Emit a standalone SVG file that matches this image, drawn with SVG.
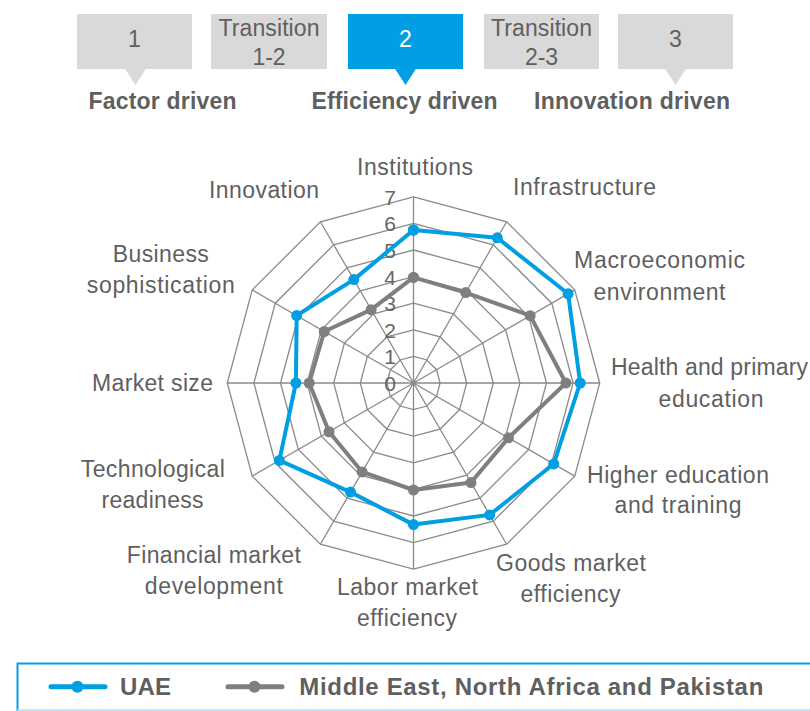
<svg xmlns="http://www.w3.org/2000/svg" width="810" height="711" viewBox="0 0 810 711">
<style>
text{font-family:"Liberation Sans",Arial,sans-serif;fill:#5f5f5f}
.box{fill:#d9d9d9}
.boxA{fill:#009fe3}
.bt{font-size:23px;text-anchor:middle}
.stage{font-size:23px;font-weight:bold;text-anchor:middle}
.ax{font-size:23px;text-anchor:middle}
.tick{font-size:21px;text-anchor:end;fill:#666666}
.grid{fill:none;stroke:#8a8a8a;stroke-width:1.3}
.uae{fill:none;stroke:#009fe3;stroke-width:4;stroke-linejoin:round;marker:url(#dotB)}
.mena{fill:none;stroke:#7f7f7f;stroke-width:4;stroke-linejoin:round;marker:url(#dotG)}
.lg{font-size:24px;font-weight:bold}
</style>
<defs>
<marker id="dotB" viewBox="-6 -6 12 12" markerWidth="12" markerHeight="12" markerUnits="userSpaceOnUse" refX="0" refY="0"><circle r="5.5" fill="#009fe3"/></marker>
<marker id="dotG" viewBox="-6 -6 12 12" markerWidth="12" markerHeight="12" markerUnits="userSpaceOnUse" refX="0" refY="0"><circle r="5.5" fill="#7f7f7f"/></marker>
</defs>
<rect width="810" height="711" fill="#ffffff"/>

<g id="stage1">
<rect class="box" x="77" y="14" width="115" height="55"/>
<polygon class="box" points="124.5,68 146.5,68 135.5,85"/>
<text class="bt" x="134.5" y="47.3">1</text>
</g>
<g id="transition12">
<rect class="box" x="211" y="14" width="116" height="55"/>
<text class="bt" x="269" y="36" textLength="101">Transition</text>
<text class="bt" x="269" y="65">1-2</text>
</g>
<g id="stage2">
<rect class="boxA" x="348" y="14" width="115" height="55"/>
<polygon class="boxA" points="394.5,68 416.5,68 405.5,85"/>
<text class="bt" x="405.5" y="47.3" style="fill:#ffffff">2</text>
</g>
<g id="transition23">
<rect class="box" x="484" y="14" width="115" height="55"/>
<text class="bt" x="541.5" y="36" textLength="101">Transition</text>
<text class="bt" x="541.5" y="65">2-3</text>
</g>
<g id="stage3">
<rect class="box" x="618" y="14" width="115" height="55"/>
<polygon class="box" points="664.5,68 686.5,68 675.5,85"/>
<text class="bt" x="675.5" y="47.3">3</text>
</g>
<g id="stage-labels">
<text class="stage" x="162.5" y="109.3" textLength="148">Factor driven</text>
<text class="stage" x="404.5" y="109.3" textLength="186">Efficiency driven</text>
<text class="stage" x="632" y="109.3" textLength="196">Innovation driven</text>
</g>

<g id="radar-grid" transform="translate(413.5,383)">
<polygon class="grid" points="0,-26.6 13.3,-23.04 23.04,-13.3 26.6,0 23.04,13.3 13.3,23.04 0,26.6 -13.3,23.04 -23.04,13.3 -26.6,0 -23.04,-13.3 -13.3,-23.04"/>
<polygon class="grid" points="0,-53.2 26.6,-46.07 46.07,-26.6 53.2,0 46.07,26.6 26.6,46.07 0,53.2 -26.6,46.07 -46.07,26.6 -53.2,0 -46.07,-26.6 -26.6,-46.07"/>
<polygon class="grid" points="0,-79.8 39.9,-69.11 69.11,-39.9 79.8,0 69.11,39.9 39.9,69.11 0,79.8 -39.9,69.11 -69.11,39.9 -79.8,0 -69.11,-39.9 -39.9,-69.11"/>
<polygon class="grid" points="0,-106.4 53.2,-92.14 92.14,-53.2 106.4,0 92.14,53.2 53.2,92.14 0,106.4 -53.2,92.14 -92.14,53.2 -106.4,0 -92.14,-53.2 -53.2,-92.14"/>
<polygon class="grid" points="0,-133 66.5,-115.18 115.18,-66.5 133,0 115.18,66.5 66.5,115.18 0,133 -66.5,115.18 -115.18,66.5 -133,0 -115.18,-66.5 -66.5,-115.18"/>
<polygon class="grid" points="0,-159.6 79.8,-138.21 138.21,-79.8 159.6,0 138.21,79.8 79.8,138.21 0,159.6 -79.8,138.21 -138.21,79.8 -159.6,0 -138.21,-79.8 -79.8,-138.21"/>
<polygon class="grid" points="0,-186.2 93.1,-161.25 161.25,-93.1 186.2,0 161.25,93.1 93.1,161.25 0,186.2 -93.1,161.25 -161.25,93.1 -186.2,0 -161.25,-93.1 -93.1,-161.25"/>
<path class="grid" d="M0,0L0,-186.2M0,0L93.1,-161.25M0,0L161.25,-93.1M0,0L186.2,0M0,0L161.25,93.1M0,0L93.1,161.25M0,0L0,186.2M0,0L-93.1,161.25M0,0L-161.25,93.1M0,0L-186.2,0M0,0L-161.25,-93.1M0,0L-93.1,-161.25"/>
</g>

<g id="tick-labels">
<text class="tick" x="396" y="391">0</text>
<text class="tick" x="396" y="364.4">1</text>
<text class="tick" x="396" y="337.8">2</text>
<text class="tick" x="396" y="311.2">3</text>
<text class="tick" x="396" y="284.6">4</text>
<text class="tick" x="396" y="258">5</text>
<text class="tick" x="396" y="231.4">6</text>
<text class="tick" x="396" y="204.8">7</text>
</g>

<g id="series-uae" transform="translate(413.5,383)">
<polygon class="uae" points="0,-153 83.8,-145.15 154.58,-89.25 166.7,0 140.21,80.95 76.15,131.89 0,141.6 -63,109.12 -134.15,77.45 -117.6,0 -116.83,-67.45 -59.7,-103.4"/>
</g>
<g id="series-mena" transform="translate(413.5,383)">
<polygon class="mena" points="0,-105.6 52.2,-90.41 116.65,-67.35 152.4,0 95,54.85 57.5,99.59 0,107 -51.35,88.94 -84.44,48.75 -104.3,0 -89.2,-51.5 -42.35,-73.35"/>
</g>

<g id="axis-labels">
<text class="ax" x="415" y="175" textLength="116">Institutions</text>
<text class="ax" x="584.5" y="195" textLength="143">Infrastructure</text>
<text class="ax" x="659.5" y="268.3" textLength="171">Macroeconomic</text>
<text class="ax" x="659.5" y="300" textLength="132">environment</text>
<text class="ax" x="709.5" y="375" textLength="197">Health and primary</text>
<text class="ax" x="711" y="406.7" textLength="105">education</text>
<text class="ax" x="678" y="483.3" textLength="182">Higher education</text>
<text class="ax" x="678" y="513" textLength="127">and training</text>
<text class="ax" x="571" y="570.7" textLength="150">Goods market</text>
<text class="ax" x="570.5" y="601.7" textLength="100">efficiency</text>
<text class="ax" x="407.5" y="595" textLength="141">Labor market</text>
<text class="ax" x="407" y="626" textLength="100">efficiency</text>
<text class="ax" x="213.8" y="562.7" textLength="174">Financial market</text>
<text class="ax" x="213.8" y="594" textLength="138">development</text>
<text class="ax" x="152.8" y="476.7" textLength="144">Technological</text>
<text class="ax" x="152.5" y="508.3" textLength="102">readiness</text>
<text class="ax" x="152.5" y="391" textLength="121">Market size</text>
<text class="ax" x="160.8" y="261.7" textLength="96">Business</text>
<text class="ax" x="160.8" y="293.3" textLength="148">sophistication</text>
<text class="ax" x="264" y="198.3" textLength="110">Innovation</text>
</g>

<g id="legend">
<path d="M17.5,711V663.5H812" fill="none" stroke="#009fe3" stroke-width="2"/>
<line x1="17" y1="710" x2="810" y2="710" stroke="#aee0f5" stroke-width="1.5"/>
<line x1="51" y1="686.7" x2="105" y2="686.7" stroke="#009fe3" stroke-width="5" stroke-linecap="round"/>
<circle cx="77.5" cy="686.7" r="6" fill="#009fe3"/>
<text class="lg" x="120" y="695" textLength="51">UAE</text>
<line x1="228" y1="686.7" x2="282" y2="686.7" stroke="#7f7f7f" stroke-width="5" stroke-linecap="round"/>
<circle cx="254.5" cy="686.7" r="6" fill="#7f7f7f"/>
<text class="lg" x="299.3" y="695" textLength="464">Middle East, North Africa and Pakistan</text>
</g>
</svg>
